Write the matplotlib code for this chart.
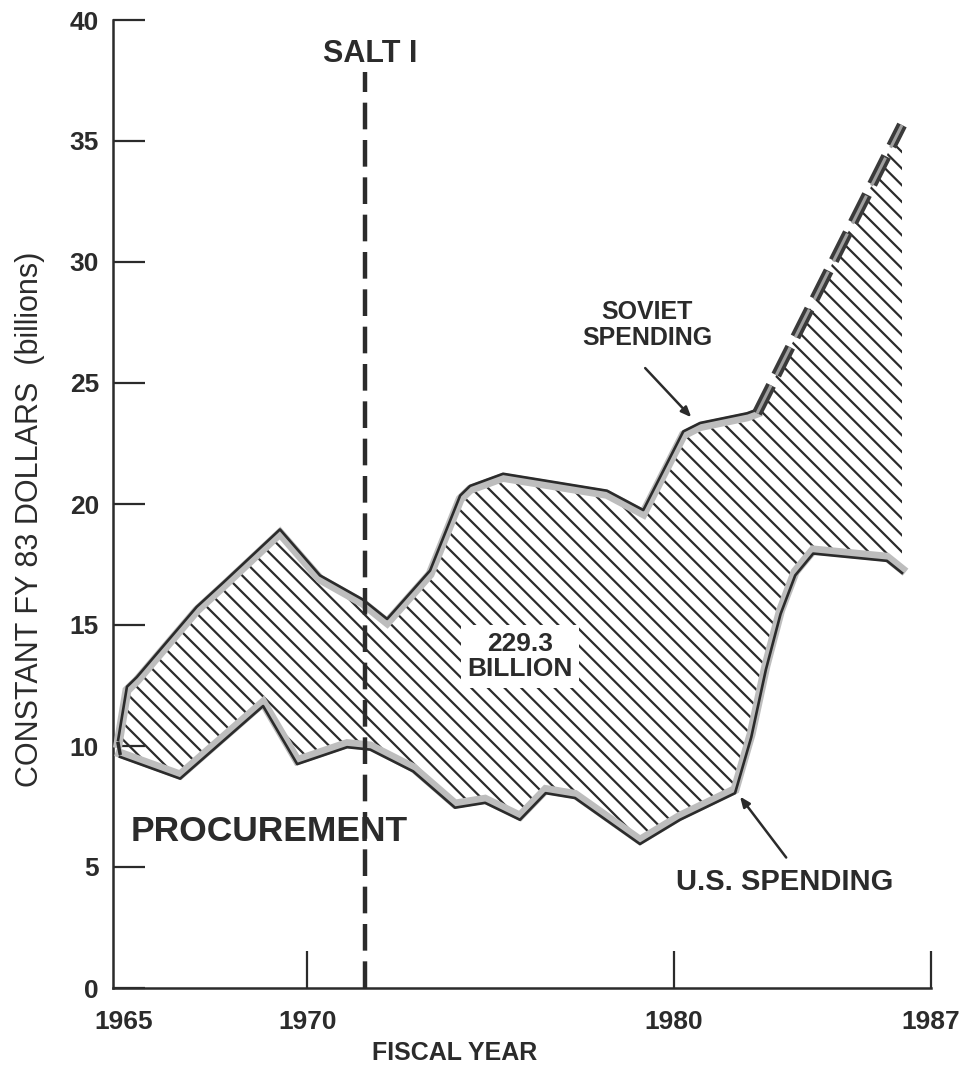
import numpy as np
import matplotlib
matplotlib.use("Agg")
import matplotlib.pyplot as plt
import matplotlib.transforms as mtransforms

plt.rcParams['font.family'] = ['Liberation Sans', 'DejaVu Sans']
plt.rcParams['hatch.linewidth'] = 1.6

# ---- data (fiscal year, constant FY83 $ billions) ----
soviet_years = [1964.85, 1965.09, 1965.36, 1966.99, 1967.71, 1969.26, 1970.35, 1971.52,
                1972.18, 1973.35, 1974.17, 1974.44, 1975.34, 1978.17, 1979.16, 1980.25,
                1980.71, 1981.99, 1982.26]
soviet_values = [10.1, 12.3, 12.7, 15.6, 16.6, 18.8, 16.9, 15.9,
                 15.1, 17.1, 20.2, 20.6, 21.1, 20.4, 19.6, 22.85,
                 23.2, 23.6, 23.75]
soviet_proj_years = [1982.26, 1986.21]
soviet_proj_values = [23.75, 35.66]

us_years = [1964.9, 1966.54, 1968.8, 1969.73, 1971.09, 1971.72, 1972.89, 1974.03,
            1974.85, 1975.8, 1976.5, 1977.3, 1979.07, 1980.16, 1981.66, 1982.1,
            1982.5, 1982.9, 1983.3, 1983.79, 1985.8, 1986.21]
us_values = [9.7, 8.8, 11.8, 9.4, 10.1, 10.0, 9.1, 7.6,
             7.8, 7.1, 8.2, 8.0, 6.1, 7.1, 8.2, 10.5,
             13.3, 15.6, 17.2, 18.1, 17.8, 17.3]

salt_year = 1971.58
x_ticks = [1970, 1980, 1987]
x_tick_labels = ['1970', '1980', '1987']
y_ticks = [0, 5, 10, 15, 20, 25, 30, 35, 40]

INK = '#2b2b2b'
W, H = 966, 1078
fig = plt.figure(figsize=(W / 100, H / 100), dpi=100)
fig.patch.set_facecolor('white')
ax = fig.add_axes([113 / W, 90 / H, 818 / W, 968 / H])
ax.set_xlim(1964.71, 1987)
ax.set_ylim(0, 40)

# hatched gap region
sx = np.array(soviet_years + soviet_proj_years[1:])
sy = np.array(soviet_values + soviet_proj_values[1:])
ux = np.array(us_years)
uy = np.array(us_values)
px = np.concatenate([sx, ux[::-1]])
py = np.concatenate([sy, uy[::-1]])
ax.fill(px, py, facecolor='white', edgecolor=INK, hatch='\\\\', linewidth=0, zorder=1)

# outlines: grey stippled band with dark outer edge
up = mtransforms.offset_copy(ax.transData, fig=fig, x=0, y=2.6, units='points')
dn = mtransforms.offset_copy(ax.transData, fig=fig, x=0, y=-2.6, units='points')
ax.plot(soviet_years, soviet_values, color='#bdbdbd', lw=6.5, zorder=3, solid_joinstyle='miter')
ax.plot(soviet_years, soviet_values, color=INK, lw=1.9, zorder=4, transform=up)
ax.plot(us_years, us_values, color='#bdbdbd', lw=6.5, zorder=3, solid_joinstyle='miter')
ax.plot(us_years, us_values, color=INK, lw=1.9, zorder=4, transform=dn)
ax.plot([soviet_years[0], us_years[0]], [soviet_values[0], us_values[0]], color=INK, lw=2.5, zorder=4)
ax.plot(soviet_proj_years, soviet_proj_values, color='#3a3a3a', lw=7.5, zorder=4,
        dashes=(3.0, 1.1), dash_capstyle='butt')
ax.plot(soviet_proj_years, soviet_proj_values, color='#a0a0a0', lw=2.2, zorder=5,
        dashes=(10.2, 3.7), dash_capstyle='butt')

# SALT I line
ax.plot([salt_year, salt_year], [0, 37.85], color=INK, lw=3.2, dashes=(6, 2.4), zorder=6)
ax.text(1971.72, 38.6, 'SALT I', ha='center', va='center', fontsize=22, fontweight='bold', color=INK)

# annotations
ax.text(1965.18, 6.45, 'PROCUREMENT', ha='left', va='center', fontsize=25.5, fontweight='bold', color=INK)
ax.text(1975.8, 13.7, '229.3\nBILLION', ha='center', va='center', fontsize=19, fontweight='bold',
        color=INK, linespacing=1.05, zorder=7,
        bbox=dict(boxstyle='square,pad=0.25', facecolor='white', edgecolor='none'))
ax.text(1979.27, 27.4, 'SOVIET\nSPENDING', ha='center', va='center', fontsize=18, fontweight='bold',
        color=INK, linespacing=1.1)
ax.annotate('', xy=(1980.52, 23.5), xytext=(1979.16, 25.7),
            arrowprops=dict(arrowstyle='-|>,head_length=0.6,head_width=0.25', color=INK, lw=1.8))
ax.text(1983.0, 4.4, 'U.S. SPENDING', ha='center', va='center', fontsize=21, fontweight='bold', color=INK)
ax.annotate('', xy=(1981.75, 8.0), xytext=(1983.1, 5.3),
            arrowprops=dict(arrowstyle='-|>,head_length=0.6,head_width=0.25', color=INK, lw=1.8))

# axes styling
for s in ['top', 'right']:
    ax.spines[s].set_visible(False)
for s in ['left', 'bottom']:
    ax.spines[s].set_linewidth(1.8)
    ax.spines[s].set_color(INK)
ax.set_yticks(y_ticks)
ax.set_yticklabels([str(v) for v in y_ticks])
ax.set_xticks(x_ticks)
ax.set_xticklabels(x_tick_labels)
ax.set_xticks([1965], labels=['1965'], minor=True)
ax.tick_params(axis='y', direction='in', length=23, width=1.6, color=INK, pad=10,
               labelsize=19, labelcolor=INK)
ax.tick_params(axis='x', which='major', direction='in', length=27, width=1.6, color=INK, pad=16,
               labelsize=19, labelcolor=INK)
ax.tick_params(axis='x', which='minor', direction='in', length=0, pad=16,
               labelsize=19, labelcolor=INK)
for lab in ax.get_yticklabels() + ax.get_xticklabels() + ax.get_xticklabels(minor=True):
    lab.set_fontweight('bold')

fig.text(30 / W, 1 - 519 / H, 'CONSTANT FY 83 DOLLARS  (billions)', rotation=90,
         ha='center', va='center', fontsize=22, color=INK)
fig.text(455 / W, 1 - 1053 / H, 'FISCAL YEAR', ha='center', va='center', fontsize=18,
         fontweight='bold', color=INK)

fig.savefig('out.png', dpi=100, facecolor='white')
